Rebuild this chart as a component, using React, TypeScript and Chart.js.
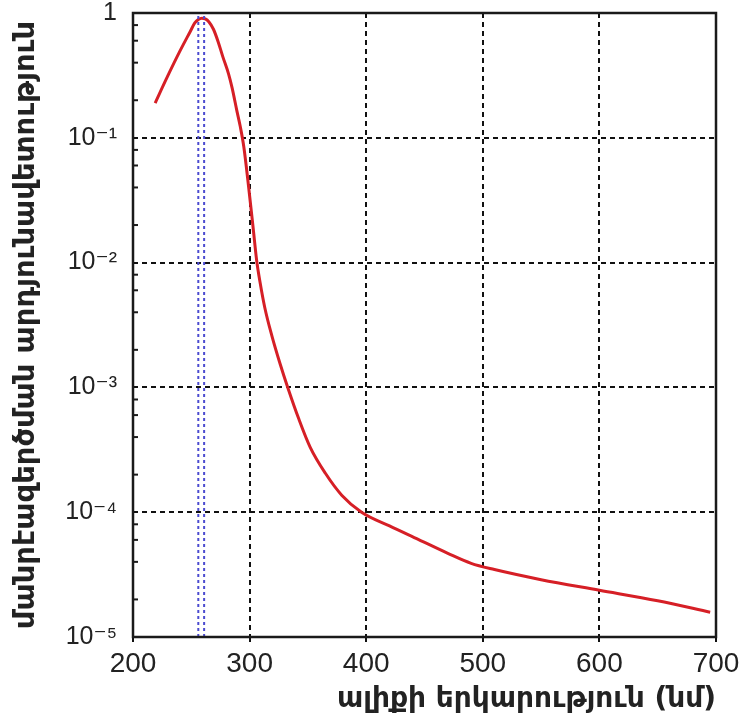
import React, { useEffect, useRef } from "react";
import { Chart, registerables } from "chart.js";

Chart.register(...registerables);

const wavelengths = [219, 229, 240, 249, 253, 256, 259, 262, 265, 269, 273, 277, 282, 285, 289, 292, 295, 299, 303, 306, 309, 313, 319, 326, 333, 342, 352, 365, 379, 396, 420, 445, 470, 490, 510, 550, 600, 650, 695];
const efficiency = [0.19, 0.302, 0.49, 0.708, 0.832, 0.887, 0.908, 0.897, 0.851, 0.741, 0.589, 0.447, 0.324, 0.251, 0.166, 0.123, 0.0851, 0.0417, 0.0191, 0.0105, 0.00692, 0.00437, 0.00261, 0.00156, 0.00098, 0.000565, 0.000331, 0.000205, 0.000137, 0.0001, 0.0000776, 0.0000603, 0.0000468, 0.0000389, 0.0000347, 0.0000288, 0.0000237, 0.0000195, 0.0000158];
const markerWavelengths = [256, 261];
const xTicks = [200, 300, 400, 500, 600, 700];
const yTicks = [1e-5, 1e-4, 1e-3, 1e-2, 1e-1, 1];
const yTickLabels = ["10⁻⁵", "10⁻⁴", "10⁻³", "10⁻²", "10⁻¹", "1"];
const minorMultipliers = [2, 4, 6, 8];
const xTitle = "ալիքի երկարություն (նմ)";
const yTitle = "մանրէազերծման արդյունավետություն";

const framePlugin = {
  id: "frame",
  afterDraw(chart: any) {
    const { ctx, chartArea } = chart;
    const y = chart.scales.y;
    ctx.save();
    ctx.strokeStyle = "#1a1a1a";
    ctx.lineWidth = 2;
    for (let e = -5; e < 0; e++) {
      for (const m of minorMultipliers) {
        const py = y.getPixelForValue(m * Math.pow(10, e));
        ctx.beginPath();
        ctx.moveTo(chartArea.left, py);
        ctx.lineTo(chartArea.left + 5, py);
        ctx.stroke();
      }
    }
    ctx.lineWidth = 2.5;
    ctx.strokeRect(chartArea.left, chartArea.top, chartArea.right - chartArea.left, chartArea.bottom - chartArea.top);
    ctx.restore();
  },
};

export default function App() {
  const ref = useRef<HTMLCanvasElement>(null);
  useEffect(() => {
    if (!ref.current) return;
    const curve = wavelengths.map((w, i) => ({ x: w, y: efficiency[i] }));
    const markers = markerWavelengths.map((w) => ({
      data: [
        { x: w, y: 1e-5 },
        { x: w, y: 1 },
      ],
      borderColor: "#4b4bd0",
      borderWidth: 2,
      borderDash: [3, 3],
      pointRadius: 0,
      fill: false,
    }));
    const chart = new Chart(ref.current, {
      type: "line",
      data: {
        datasets: [
          ...markers,
          {
            data: curve,
            borderColor: "#d61f26",
            borderWidth: 3,
            pointRadius: 0,
            cubicInterpolationMode: "monotone",
            fill: false,
          },
        ],
      },
      options: {
        responsive: false,
        animation: false,
        plugins: { legend: { display: false }, tooltip: { enabled: false } },
        layout: { padding: { left: 0, top: 13, right: 27, bottom: 0 } },
        scales: {
          x: {
            type: "linear",
            min: 200,
            max: 700,
            afterBuildTicks: (s: any) => {
              s.ticks = xTicks.map((v) => ({ value: v }));
            },
            afterFit: (s: any) => {
              s.height = 87;
              s.paddingLeft = 0;
              s.paddingRight = 0;
            },
            border: { display: false, dash: [5, 4] },
            grid: {
              color: (c: any) => (c.tick && (c.tick.value === 200 || c.tick.value === 700) ? "rgba(0,0,0,0)" : "#111"),
              lineWidth: 2,
              drawTicks: true,
              tickLength: 5,
              tickColor: "#111",
              tickWidth: 2,
            },
            ticks: {
              color: "#222",
              font: { family: "'Liberation Sans', Arial, sans-serif", size: 28 },
              padding: 5,
              maxRotation: 0,
              callback: (v: any) => String(v),
            },
            title: {
              display: true,
              text: xTitle,
              align: "end",
              color: "#222",
              font: { family: "'DejaVu Sans', sans-serif", size: 28, weight: "bold" },
              padding: { top: 0, bottom: 7 },
            },
          },
          y: {
            type: "logarithmic",
            min: 1e-5,
            max: 1,
            afterBuildTicks: (s: any) => {
              s.ticks = yTicks.map((v) => ({ value: v, major: true }));
            },
            afterFit: (s: any) => {
              s.width = 133;
              s.paddingTop = 0;
              s.paddingBottom = 0;
            },
            border: { display: false, dash: [5, 4] },
            grid: {
              color: (c: any) => (c.tick && (c.tick.value >= 0.5 || c.tick.value <= 2e-5) ? "rgba(0,0,0,0)" : "#111"),
              lineWidth: 2,
              drawTicks: false,
            },
            ticks: {
              color: "#222",
              font: { family: "'Liberation Sans', 'DejaVu Sans', Arial, sans-serif", size: 25 },
              padding: 16,
              callback: (v: any) => {
                const i = yTicks.findIndex((t) => Math.abs(Math.log10(t) - Math.log10(v)) < 1e-6);
                return i >= 0 ? yTickLabels[i] : "";
              },
            },
            title: {
              display: true,
              text: yTitle,
              color: "#222",
              font: { family: "'DejaVu Sans', sans-serif", size: 29, weight: "bold" },
              padding: { top: 9, bottom: 0 },
            },
          },
        },
      },
      plugins: [framePlugin],
    } as any);
    return () => chart.destroy();
  }, []);
  return (
    <div style={{ position: "fixed", left: 0, top: 0, width: 743, height: 724, background: "#fff" }}>
      <canvas ref={ref} width={743} height={724} />
    </div>
  );
}
